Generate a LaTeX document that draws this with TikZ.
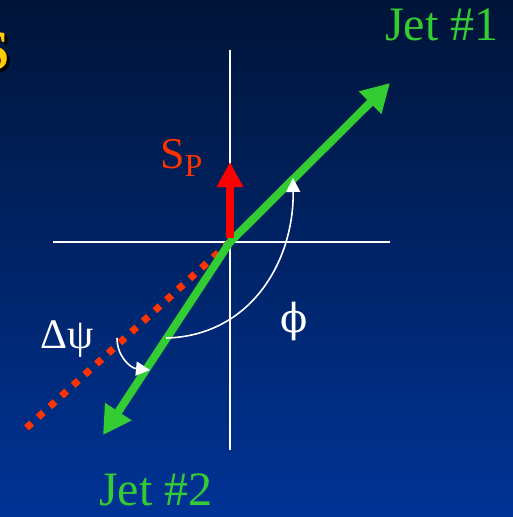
\documentclass[tikz,border=0pt]{standalone}
\usepackage{fontspec}
\setmainfont{Liberation Serif}
\newfontfamily\greekphi{DejaVu Serif}
\usetikzlibrary{arrows.meta}
\definecolor{bgtop}{HTML}{001438}
\definecolor{bgbot}{HTML}{003396}
\definecolor{jetgreen}{HTML}{33CC33}
\definecolor{spred}{HTML}{FF3300}
\definecolor{titleyellow}{HTML}{FFCC00}
\tikzset{
  axis/.style={draw=white, line width=1.6pt},
  jet/.style={draw=jetgreen, line width=8pt, -{Triangle[length=28pt,width=30pt]}, shorten <=0pt},
  dotline/.style={draw=spred, line width=7pt, dash pattern=on 7pt off 8.8pt},
  spin/.style={draw=red, line width=8pt, -{Triangle[length=25pt,width=25pt]}},
  anglearc/.style={draw=white, line width=1.6pt, -{Triangle[length=14pt,width=14pt]}},
  jetlabel/.style={text=jetgreen, font=\fontsize{48}{52}\selectfont, inner sep=0pt},
  whitelabel/.style={text=white, font=\fontsize{42}{46}\selectfont, inner sep=0pt},
}
\begin{document}
\begin{tikzpicture}[x=1pt,y=-1pt]
\useasboundingbox (0,0) rectangle (513,517);
\shade[top color=bgtop, bottom color=bgbot] (0,0) rectangle (513,517);
\begin{scope}
\clip (0,0) rectangle (513,517);
\node[text=black, font=\bfseries\fontsize{56}{60}\selectfont, anchor=east, inner sep=0pt] (sshadow) at (13,54) {S};
\node[text=titleyellow, font=\bfseries\fontsize{56}{60}\selectfont, anchor=east, inner sep=0pt] (stitle) at (10,51) {S};
\end{scope}
% axes
\coordinate (O) at (230,242);
\coordinate (vtop) at (230,50);
\coordinate (vbot) at (230,450);
\coordinate (hleft) at (53,242);
\coordinate (hright) at (390,242);
\draw[axis] (vtop) -- (vbot);
\draw[axis] (hleft) -- (hright);
% dotted red line
\coordinate (dotend) at (22,432);
\draw[dotline] (O) -- (dotend);
% jets
\coordinate (j1) at (390,83);
\coordinate (j2) at (103,435);
\draw[jet] (O) -- (j1);
\draw[jet] (O) -- (j2);
% spin arrow
\coordinate (sptip) at (230,162);
\draw[spin] ([yshift=4pt]O) -- (sptip);
% angle arcs
\coordinate (phistart) at (166,338);
\coordinate (phiend) at (293,178);
\draw[anglearc] (phistart) .. controls (250,336) and (294,262) .. (phiend);
\coordinate (dpstart) at (117,338);
\coordinate (dpend) at (150,370);
\draw[anglearc] (dpstart) .. controls (117,356) and (130,368) .. (dpend);
% labels
\node[jetlabel, anchor=base west] (jet1) at (385,40) {Jet \#1};
\node[jetlabel, anchor=base west] (jet2) at (99,505) {Jet \#2};
\node[text=spred, font=\fontsize{44}{48}\selectfont, inner sep=0pt, anchor=base west] (sp) at (160,168) {S\raisebox{-8pt}{\fontsize{32}{34}\selectfont P}};
\node[whitelabel, anchor=base west] (dpsi) at (40,348) {Δψ};
\node[text=white, font=\greekphi\fontsize{40}{44}\selectfont, inner sep=0pt, anchor=base west] (phi) at (280,332) {ϕ};
\end{tikzpicture}
\end{document}
